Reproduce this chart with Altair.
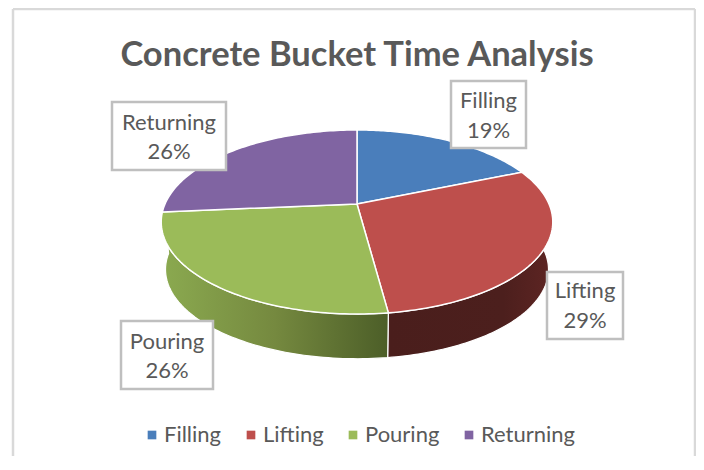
import numpy as np
import pandas as pd
import altair as alt

# --- chart values (read from the slice boundaries; labels show them rounded) ---
slices = ["Filling", "Lifting", "Pouring", "Returning"]
percent = [18.7, 29.2, 25.7, 26.4]
colors = ["#4A7EBB", "#BE4F4C", "#9BBB59", "#8064A2"]
title_text = "Concrete Bucket Time Analysis"

# --- pie geometry (image pixels): a tilted disc seen in perspective ---
CX, CY = 357.0, 204.0
C, A, B = 192.0, 88.5, -0.1957
DROP, SHRINK_X, SHRINK_Y = 48.0, 0.978, 0.97
W, H = 688, 448


def rim(theta_deg, bottom=False):
    t = np.radians(theta_deg)
    u, s = np.sin(t), -np.cos(t)
    w = 1 + B * s
    x, y = C * u / w, A * s / w
    if bottom:
        return CX + SHRINK_X * x, CY + DROP + SHRINK_Y * y
    return CX + x, CY + y


edges = np.cumsum([0] + percent) * 3.6
top_rows = []
for name, a0, a1 in zip(slices, edges[:-1], edges[1:]):
    angs = np.linspace(a0, a1, 80)
    pts = [(CX, CY)] + [rim(a) for a in angs] + [(CX, CY)]
    for i, (x, y) in enumerate(pts):
        top_rows.append({"slice": name, "i": i, "x": x, "y": y})
top_df = pd.DataFrame(top_rows)


def side_df(a0, a1):
    angs = np.linspace(a0, a1, 80)
    pts = [rim(a) for a in angs] + [rim(a, True) for a in angs[::-1]]
    pts.append(pts[0])
    return pd.DataFrame([{"i": i, "x": x, "y": y} for i, (x, y) in enumerate(pts)])


X = alt.X("x:Q", scale=alt.Scale(domain=[8, 8 + W], range=[0, W]), axis=None)
Y = alt.Y("y:Q", scale=alt.Scale(domain=[8, 8 + H], range=[0, H]), axis=None)


def grad(stops):
    return alt.LinearGradient(
        gradient="linear", x1=0, x2=1, y1=0, y2=0,
        stops=[alt.GradientStop(offset=o, color=c) for o, c in stops],
    )


side_red = alt.Chart(side_df(85, edges[2])).mark_line(
    fill=grad([(0, "#4A1E1C"), (0.7, "#4C1F1D"), (1, "#5E2523")]),
    stroke="white", strokeWidth=1.2,
).encode(x=X, y=Y, order="i:Q")
side_green = alt.Chart(side_df(edges[2], edges[3] + 4)).mark_line(
    fill=grad([(0, "#8BAA50"), (0.5, "#75893F"), (1, "#4C5E28")]),
    stroke="white", strokeWidth=1.2,
).encode(x=X, y=Y, order="i:Q")

top = alt.Chart(top_df).mark_line(stroke="white", strokeWidth=1.5).encode(
    x=X, y=Y, order="i:Q",
    fill=alt.Fill(
        "slice:N",
        scale=alt.Scale(domain=slices, range=colors),
        legend=alt.Legend(
            title=None, orient="none", direction="horizontal",
            legendX=133, legendY=416, symbolType="square", symbolSize=75,
            symbolStrokeWidth=0, labelFont="Lato", labelFontSize=22,
            labelColor="#595959", columnPadding=18, labelOffset=1, symbolOffset=0,
        ),
    ),
)


def rule(x, x2, y, y2):
    return alt.Chart(pd.DataFrame({"a": [0]})).mark_rule(
        color="#D9D9D9", strokeWidth=2.5
    ).encode(
        x=alt.value(x - 8), x2=alt.value(x2 - 8), y=alt.value(y - 8), y2=alt.value(y2 - 8)
    )


# the page margin leaves no room past x=696, so the right edge sits just inside it
frame = rule(13, 13, 9, 470) + rule(13, 695, 9, 9) + rule(695, 695, 9, 470)


def label(name, pct, left, right, top_y, bottom, y1, y2):
    one = pd.DataFrame({"a": [0]})
    box = alt.Chart(one).mark_rect(
        fill="white", stroke="#BFBFBF", strokeWidth=2.5
    ).encode(
        x=alt.value(left - 8), x2=alt.value(right - 8),
        y=alt.value(top_y - 8), y2=alt.value(bottom - 8),
    )
    cx = (left + right) / 2 - 8
    t1 = alt.Chart(one).mark_text(
        text=name, font="Lato", fontSize=22, color="#595959", baseline="middle", align="center"
    ).encode(x=alt.value(cx), y=alt.value(y1 - 8))
    t2 = alt.Chart(one).mark_text(
        text=f"{round(pct)}%", font="Lato", fontSize=22, color="#595959", baseline="middle", align="center"
    ).encode(x=alt.value(cx), y=alt.value(y2 - 8))
    return box + t1 + t2


labels = (
    label(slices[0], percent[0], 451, 526, 81, 148, 101, 131)
    + label(slices[1], percent[1], 547, 623, 272, 339, 291, 321)
    + label(slices[2], percent[2], 121, 213, 321, 389, 342, 371)
    + label(slices[3], percent[3], 112, 226, 102, 170, 123, 152)
)

title = alt.Chart(pd.DataFrame({"a": [0]})).mark_text(
    text=title_text, font="Lato", fontWeight="bold", fontSize=34.5, color="#595959",
    align="center", baseline="middle",
).encode(x=alt.value(357 - 8), y=alt.value(56 - 8))

chart = alt.layer(frame, side_red, side_green, top, labels, title).properties(
    width=W, height=H, padding=0, autosize=alt.AutoSizeParams(type="none")
).configure_view(stroke=None).resolve_scale(fill="independent")

chart.save("out.html", embed_options={"renderer": "svg", "actions": False})
